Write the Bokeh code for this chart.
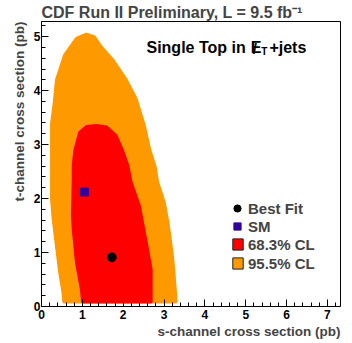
from bokeh.plotting import figure
from bokeh.models import Range1d, FixedTicker, Label, Legend, LegendItem, Title
from bokeh.embed import file_html
from bokeh.resources import INLINE

# 95.5% CL contour (s-channel, t-channel) in pb
orange_s = [0.54, 0.52, 0.44, 0.36, 0.28, 0.24, 0.24, 0.24, 0.31, 0.36, 0.56, 0.85, 1.10, 1.30,
            1.46, 1.75, 2.08, 2.32, 2.52, 2.65, 2.79, 2.85, 3.01, 3.10, 3.18, 3.22, 3.28, 3.30]
orange_t = [0.08, 0.26, 0.63, 1.12, 1.62, 1.99, 2.36, 3.39, 3.80, 4.20, 4.66, 4.97, 5.05, 5.00,
            4.82, 4.57, 4.20, 3.85, 3.36, 2.92, 2.58, 2.30, 1.93, 1.56, 1.12, 0.88, 0.32, 0.08]
# 68.3% CL contour
red_s = [1.00, 0.97, 0.85, 0.77, 0.75, 0.77, 0.77, 0.81, 0.93, 1.10, 1.34, 1.59, 1.83, 1.99,
         2.12, 2.20, 2.40, 2.57, 2.69, 2.69]
red_t = [0.08, 0.32, 0.81, 1.43, 1.68, 2.36, 2.61, 2.90, 3.23, 3.34, 3.36, 3.33, 3.17, 2.89,
         2.61, 2.30, 1.87, 1.19, 0.69, 0.08]
best_fit_s = [1.72]
best_fit_t = [0.91]
sm_s = [1.05]
sm_t = [2.12]
x_ticks = [0, 1, 2, 3, 4, 5, 6, 7]
y_ticks = [0, 1, 2, 3, 4, 5]
x_minor = [round(i * 0.2, 1) for i in range(0, 37)]
y_minor = [round(i * 0.2, 1) for i in range(0, 27)]

FONT = "Liberation Sans"

p = figure(width=345, height=340, x_range=Range1d(0, 7.32), y_range=Range1d(0, 5.28),
           output_backend="svg", toolbar_location=None,
           min_border_left=41, min_border_right=5, min_border_top=0, min_border_bottom=34)
p.title.text = "CDF Run II Preliminary, L = 9.5 fb\u207b\u00b9"
p.title.align = "left"
p.title.text_font = FONT
p.title.text_font_size = "16px"
p.title.text_font_style = "bold"
p.title.standoff = 2
p.title.offset = 0

p.xgrid.visible = False
p.ygrid.visible = False
p.outline_line_color = "black"
p.outline_line_width = 1
p.background_fill_color = "white"
p.border_fill_color = "white"

for ax, tk, mn in ((p.xaxis, x_ticks, x_minor), (p.yaxis, y_ticks, y_minor)):
    ax.ticker = FixedTicker(ticks=tk, minor_ticks=mn)
    ax.major_tick_in = 7
    ax.major_tick_out = 0
    ax.minor_tick_in = 4
    ax.minor_tick_out = 0
    ax.axis_line_color = "black"
    ax.major_tick_line_color = "black"
    ax.minor_tick_line_color = "black"
    ax.major_label_text_font = FONT
    ax.major_label_text_font_size = "12px"
    ax.major_label_text_font_style = "bold"
    ax.major_label_text_color = "black"
p.xaxis.major_label_standoff = 3
p.yaxis.major_label_standoff = 1

xt = Title(text="s-channel cross section (pb)", align="right", text_font=FONT,
           text_font_size="13.5px", text_font_style="bold", standoff=0, offset=0)
p.add_layout(xt, "below")
yt = Title(text="t-channel cross section (pb)", align="right", text_font=FONT,
           text_font_size="13.5px", text_font_style="bold", standoff=7, offset=0)
p.add_layout(yt, "left")

# legend-only patches, drawn underneath the real contours
r95 = p.patch(orange_s, orange_t, fill_color="#ff9900", line_color="#222222", line_width=1)
r68 = p.patch(red_s, red_t, fill_color="#ff0000", line_color="#222222", line_width=1)
p.patch(orange_s, orange_t, fill_color="#ff9900", line_color="#ff9900", line_width=2.5)
p.patch(red_s, red_t, fill_color="#ff0000", line_color="#ff0000", line_width=2.5)
bf = p.scatter(best_fit_s, best_fit_t, marker="circle", size=9, fill_color="black", line_color="black")
sm = p.scatter(sm_s, sm_t, marker="square", size=8, fill_color="#330099", line_color="#330099")

common = dict(padding=0, margin=0, border_line_color=None, background_fill_alpha=0,
              label_text_font=FONT, label_text_font_size="15px", label_text_font_style="bold")
legA = Legend(items=[LegendItem(label="Best Fit", renderers=[bf]),
                     LegendItem(label="SM", renderers=[sm])],
              location=(185, 71), glyph_width=22, glyph_height=18, label_height=18,
              spacing=0, label_standoff=0, **common)
legB = Legend(items=[LegendItem(label="68.3% CL", renderers=[r68]),
                     LegendItem(label="95.5% CL", renderers=[r95])],
              location=(190, 34), glyph_width=13, glyph_height=14, label_height=18,
              spacing=1, label_standoff=4, **common)
p.add_layout(legA)
p.add_layout(legB)

lab = dict(x_units="data", y_units="data", text_font=FONT, text_font_style="bold",
           text_baseline="alphabetic", text_color="black")
p.add_layout(Label(x=2.57, y=4.80, text="Single Top in", text_font_size="16px", **lab))
p.add_layout(Label(x=5.12, y=4.80, text="E", text_font_size="16px", **lab))
p.add_layout(Label(x=5.17, y=4.78, text="/", text_font_size="15px", **lab))
p.add_layout(Label(x=5.38, y=4.73, text="T", text_font_size="10px", **lab))
p.add_layout(Label(x=5.58, y=4.80, text="+jets", text_font_size="16px", **lab))

open("out.html", "w").write(file_html(p, INLINE))
